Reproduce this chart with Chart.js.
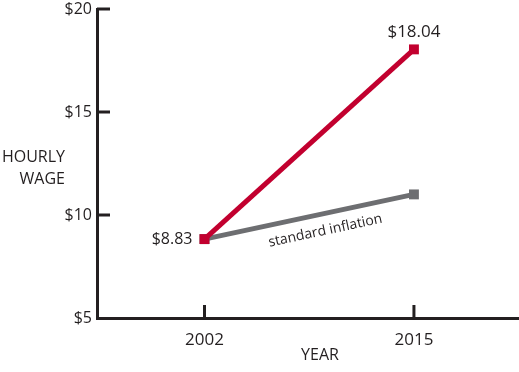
<!DOCTYPE html>
<html>
<head>
<meta charset="utf-8">
<script src="https://cdn.jsdelivr.net/npm/chart.js@4/dist/chart.umd.min.js"></script>
<style>
	html, body { margin: 0; padding: 0; background: #fff; }
	#wrap { width: 519px; height: 372px; }
</style>
</head>
<body>
<div id="wrap"><canvas id="wageChart"></canvas></div>
<script>
const years = [2002, 2015]
const actualWage = [8.83, 18.04]
const inflationWage = [8.83, 11.0]
const yTicks = [5, 10, 15, 20]
const wageLabels = ["$8.83", "$18.04"]

const ink = "#231f20"
const red = "#c2002f"
const gray = "#6d6e71"
const font = "'Open Sans', sans-serif"

const annotations = {
	id: "annotations",
	afterDraw(chart) {
		const ctx = chart.ctx
		const x = chart.scales.x
		const y = chart.scales.y
		ctx.save()
		ctx.strokeStyle = ink
		ctx.lineWidth = 3

		// inward tick marks
		years.forEach(yr => {
			const px = x.getPixelForValue(yr)
			ctx.beginPath()
			ctx.moveTo(px, y.bottom)
			ctx.lineTo(px, y.bottom - 13)
			ctx.stroke()
		})
		yTicks.slice(1).forEach(v => {
			const py = y.getPixelForValue(v)
			ctx.beginPath()
			ctx.moveTo(x.left, py)
			ctx.lineTo(x.left + 13, py)
			ctx.stroke()
		})

		ctx.fillStyle = ink
		ctx.textBaseline = "middle"

		// value labels
		const red0 = chart.getDatasetMeta(0).data
		ctx.font = "16px " + font
		ctx.textAlign = "right"
		ctx.fillText(wageLabels[0], red0[0].x - 12, red0[0].y)
		ctx.font = "17px " + font
		ctx.textAlign = "center"
		ctx.fillText(wageLabels[1], red0[1].x, red0[1].y - 17)

		// axis titles
		ctx.font = "16px " + font
		ctx.textAlign = "right"
		ctx.fillText("HOURLY", 65, 157)
		ctx.fillText("WAGE", 65, 179)
		ctx.textAlign = "center"
		ctx.fillText("YEAR", 320, 355)

		// line label
		const g = chart.getDatasetMeta(1).data
		const ang = Math.atan2(g[1].y - g[0].y, g[1].x - g[0].x)
		const t = 0.56
		const cx = g[0].x + (g[1].x - g[0].x) * t - Math.sin(ang) * 17
		const cy = g[0].y + (g[1].y - g[0].y) * t + Math.cos(ang) * 17
		ctx.translate(cx, cy)
		ctx.rotate(ang)
		ctx.font = "14px " + font
		ctx.fillText("standard inflation", 0, 0)
		ctx.restore()
	}
}

new Chart(document.getElementById("wageChart"), {
	type: "line",
	data: {
		datasets: [
			{
				label: "Hourly wage",
				data: years.map((yr, i) => ({ x: yr, y: actualWage[i] })),
				borderColor: red,
				backgroundColor: red,
				borderWidth: 5,
				pointStyle: "rect",
				pointRadius: 7,
				pointBorderWidth: 0
			},
			{
				label: "standard inflation",
				data: years.map((yr, i) => ({ x: yr, y: inflationWage[i] })),
				borderColor: gray,
				backgroundColor: gray,
				borderWidth: 5,
				pointStyle: "rect",
				pointRadius: 7,
				pointBorderWidth: 0
			}
		]
	},
	options: {
		responsive: true,
		maintainAspectRatio: false,
		animation: false,
		layout: { autoPadding: false, padding: { top: 9, right: 0, left: 0, bottom: 0 } },
		plugins: {
			legend: { display: false },
			tooltip: { enabled: false }
		},
		scales: {
			x: {
				type: "linear",
				min: 1995.33,
				max: 2021.52,
				afterBuildTicks: scale => {
					scale.ticks = years.map(v => ({ value: v }))
				},
				afterFit: scale => {
					scale.height = 54
					scale.paddingLeft = 0
					scale.paddingRight = 0
				},
				grid: { display: false, drawTicks: false },
				border: { display: true, width: 3, color: ink },
				ticks: {
					color: ink,
					padding: 12,
					font: { family: font, size: 17 },
					callback: v => String(v)
				}
			},
			y: {
				min: 5,
				max: 20,
				afterBuildTicks: scale => {
					scale.ticks = yTicks.map(v => ({ value: v }))
				},
				afterFit: scale => {
					scale.width = 97
					scale.paddingTop = 0
					scale.paddingBottom = 0
				},
				grid: { display: false, drawTicks: false },
				border: { display: true, width: 3, color: ink },
				ticks: {
					color: ink,
					padding: 5,
					font: { family: font, size: 16 },
					callback: v => "$" + v
				}
			}
		}
	},
	plugins: [annotations]
})
</script>
</body>
</html>
